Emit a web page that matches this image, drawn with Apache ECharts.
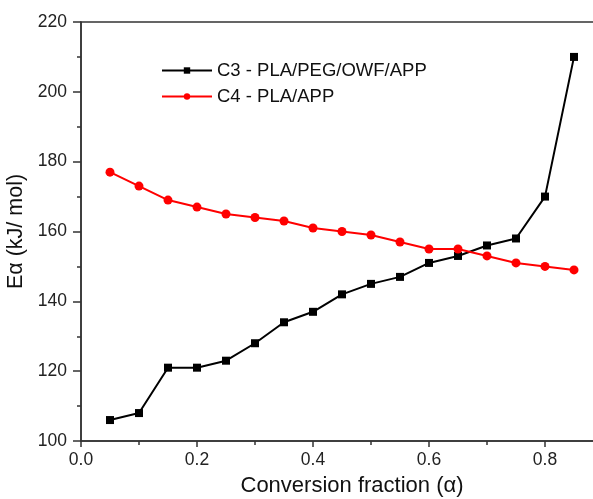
<!DOCTYPE html>
<html>
<head>
<meta charset="utf-8">
<script src="https://cdn.jsdelivr.net/npm/echarts@6/dist/echarts.min.js"></script>
<style>
  html, body { margin: 0; padding: 0; background: #fff; }
  #chart { width: 593px; height: 499px; }
</style>
</head>
<body>
<div id="chart"></div>
<script>
// Conversion fraction (alpha) sampled every 0.05
const alphaValues = [0.05, 0.10, 0.15, 0.20, 0.25, 0.30, 0.35, 0.40, 0.45,
                     0.50, 0.55, 0.60, 0.65, 0.70, 0.75, 0.80, 0.85];

// Activation energy, kJ/mol
const c3Values = [106, 108, 121, 121, 123, 128, 134, 137, 142,
                  145, 147, 151, 153, 156, 158, 170, 210];
const c4Values = [177, 173, 169, 167, 165, 164, 163, 161, 160,
                  159, 157, 155, 155, 153, 151, 150, 149];

const seriesNames = ['C3 - PLA/PEG/OWF/APP', 'C4 - PLA/APP'];
const xAxisTitle = 'Conversion fraction (\u03b1)';
const yAxisTitle = 'E\u03b1 (kJ/ mol)';

const FONT = '"Liberation Sans", Arial, sans-serif';
const AXIS_COLOR = '#333';

function pairs(xs, ys) {
  return xs.map((x, i) => [x, ys[i]]);
}

const chart = echarts.init(document.getElementById('chart'), null, { renderer: 'canvas' });

chart.setOption({
  backgroundColor: '#ffffff',
  animation: false,
  textStyle: { fontFamily: FONT },
  grid: {
    left: 81, top: 22, bottom: 58, right: -68,
    outerBoundsMode: 'none',
    containLabel: false,
    show: true, borderColor: AXIS_COLOR, borderWidth: 1.5,
    backgroundColor: 'transparent'
  },
  legend: {
    orient: 'vertical',
    left: 156, top: 56,
    itemWidth: 50, itemHeight: 8, itemGap: 7,
    textStyle: { fontSize: 18.5, color: '#111', fontFamily: FONT },
    data: seriesNames
  },
  xAxis: {
    type: 'value',
    min: 0, max: 1.0, interval: 0.2,
    name: xAxisTitle,
    nameLocation: 'middle',
    nameGap: 34,
    nameTextStyle: { fontSize: 22, color: '#111', fontFamily: FONT, padding: [0, 38, 0, 0] },
    axisLine: { show: true, lineStyle: { color: AXIS_COLOR, width: 1.5 } },
    axisTick: { show: true, inside: false, length: 6, lineStyle: { color: AXIS_COLOR, width: 1.5 } },
    minorTick: { show: true, splitNumber: 2, length: 4, lineStyle: { color: AXIS_COLOR, width: 1.5 } },
    splitLine: { show: false },
    axisLabel: {
      fontSize: 17.5, color: '#222', margin: 10, fontFamily: FONT,
      formatter: v => v.toFixed(1)
    }
  },
  yAxis: {
    type: 'value',
    min: 100, max: 220, interval: 20,
    name: yAxisTitle,
    nameLocation: 'middle',
    nameGap: 52,
    nameRotate: 90,
    nameTextStyle: { fontSize: 21.5, color: '#111', fontFamily: FONT },
    axisLine: { show: true, lineStyle: { color: AXIS_COLOR, width: 1.5 } },
    axisTick: { show: true, inside: false, length: 8, lineStyle: { color: AXIS_COLOR, width: 1.5 } },
    minorTick: { show: true, splitNumber: 2, length: 4, lineStyle: { color: AXIS_COLOR, width: 1.5 } },
    splitLine: { show: false },
    axisLabel: { fontSize: 17.5, color: '#222', margin: 14, fontFamily: FONT }
  },
  series: [
    {
      name: seriesNames[0],
      type: 'line',
      data: pairs(alphaValues, c3Values),
      symbol: 'rect',
      symbolSize: 8,
      color: '#000000',
      lineStyle: { color: '#000000', width: 2 },
      itemStyle: { color: '#000000' }
    },
    {
      name: seriesNames[1],
      type: 'line',
      data: pairs(alphaValues, c4Values),
      symbol: 'circle',
      symbolSize: 9,
      color: '#ff0000',
      lineStyle: { color: '#ff0000', width: 2 },
      itemStyle: { color: '#ff0000' }
    }
  ]
});
</script>
</body>
</html>
